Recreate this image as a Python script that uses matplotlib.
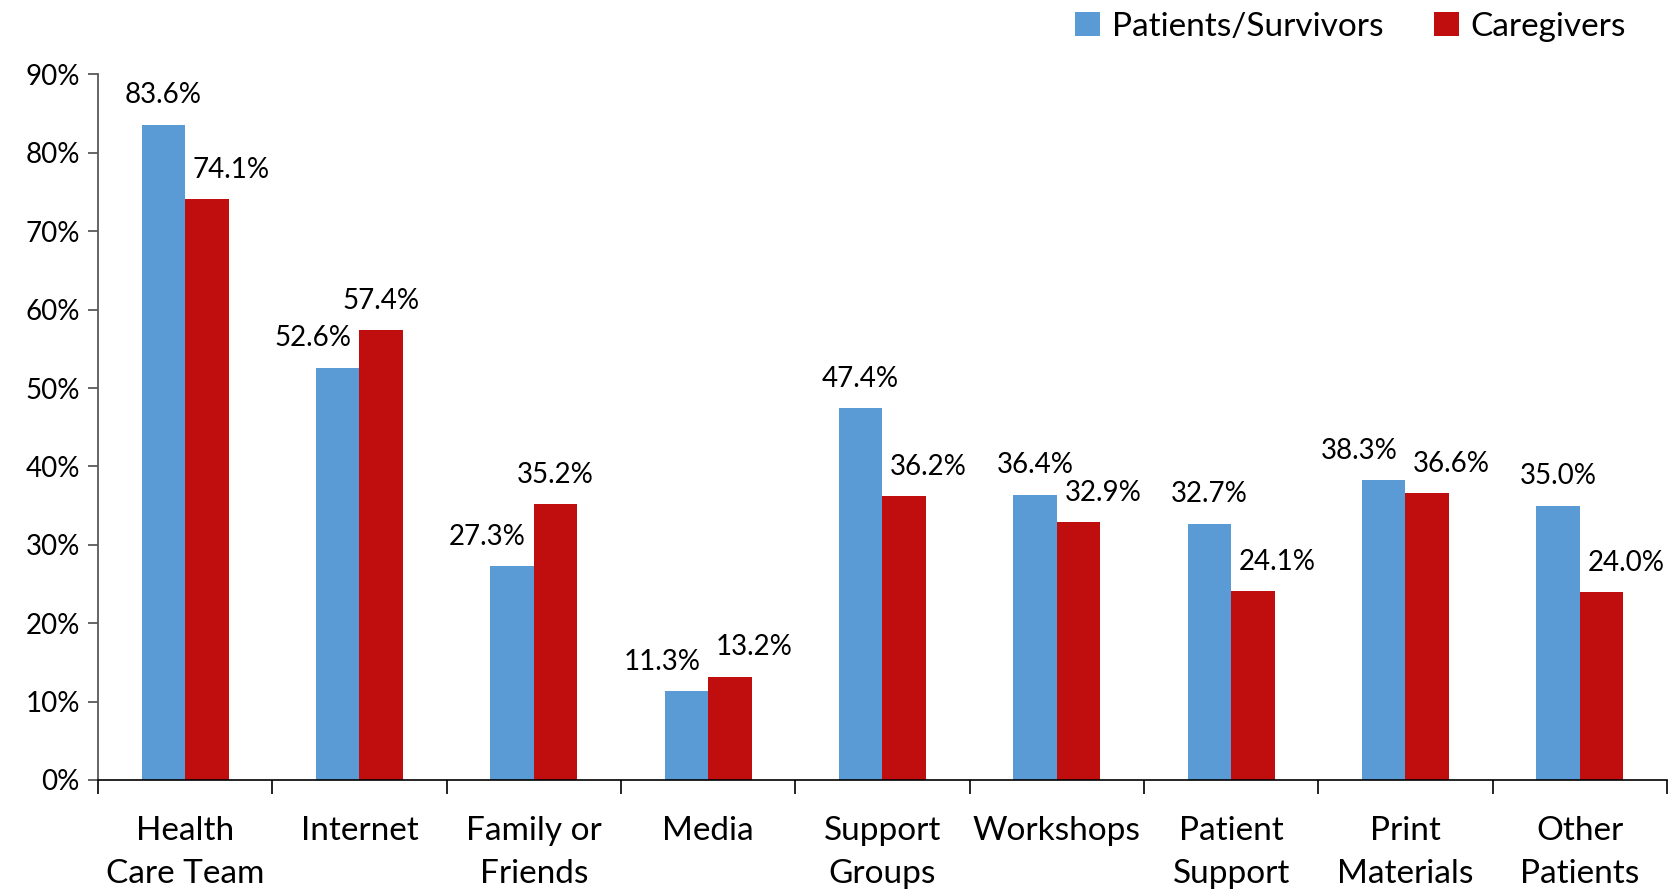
import numpy as np
import matplotlib
matplotlib.use("Agg")
import matplotlib.pyplot as plt
from matplotlib.ticker import FixedLocator, PercentFormatter

plt.rcParams['font.family'] = ['Lato', 'DejaVu Sans']

# données
categories = ["Health\nCare Team", "Internet", "Family or\nFriends", "Media",
              "Support\nGroups", "Workshops", "Patient\nSupport", "Print\nMaterials",
              "Other\nPatients"]
patients = [83.6, 52.6, 27.3, 11.3, 47.4, 36.4, 32.7, 38.3, 35.0]
caregivers = [74.1, 57.4, 35.2, 13.2, 36.2, 32.9, 24.1, 36.6, 24.0]
series_names = ["Patients/Survivors", "Caregivers"]

bleu = '#5B9BD5'
rouge = '#C00D0D'
gris = '#595959'

fig = plt.figure(figsize=(16.69, 8.91), dpi=100)
ax = fig.add_axes([0.0587, 0.1246, 0.9401, 0.7918])

x = np.arange(len(categories))
w = 0.25
ax.bar(x - w / 2, patients, w, color=bleu, label=series_names[0])
ax.bar(x + w / 2, caregivers, w, color=rouge, label=series_names[1])

# étiquettes de valeurs (décalées comme dans Excel quand elles se chevauchent)
decal = 0.14
for i in range(len(categories)):
    p, c = patients[i], caregivers[i]
    dp, dc = 0.0, 0.0
    if abs(p - c) < 3:
        dp, dc = -decal, decal
    elif p > c:
        dc = decal
    else:
        dp = -decal
    ax.annotate(f"{p:.1f}%", (x[i] - w / 2 + dp, p), xytext=(0, 21),
                textcoords='offset points', ha='center', va='center', fontsize=20)
    ax.annotate(f"{c:.1f}%", (x[i] + w / 2 + dc, c), xytext=(0, 21),
                textcoords='offset points', ha='center', va='center', fontsize=20)

ax.set_xlim(-0.5, len(categories) - 0.5)
ax.set_ylim(0, 90)
ax.set_yticks(np.arange(0, 91, 10))
ax.yaxis.set_major_formatter(PercentFormatter(decimals=0))
ax.set_xticks(x)
ax.set_xticklabels(categories, fontsize=24, linespacing=1.55)
ax.xaxis.set_minor_locator(FixedLocator(np.arange(-0.5, len(categories), 1.0)))

ax.tick_params(axis='x', which='major', length=0, pad=26)
ax.tick_params(axis='x', which='minor', length=10, width=1.2, color='black')
ax.tick_params(axis='y', length=7, width=1.3, color=gris, labelsize=20, pad=6)

for s in ['top', 'right']:
    ax.spines[s].set_visible(False)
ax.spines['left'].set_color(gris)
ax.spines['left'].set_linewidth(1.3)
ax.spines['bottom'].set_color('black')
ax.spines['bottom'].set_linewidth(1.2)

fig.legend(loc='center right', bbox_to_anchor=(0.982, 0.970), ncol=2, frameon=False,
           fontsize=24, handlelength=0.75, handleheight=0.75, handletextpad=0.35,
           columnspacing=1.5, borderaxespad=0)

fig.savefig("out.png", dpi=100)
